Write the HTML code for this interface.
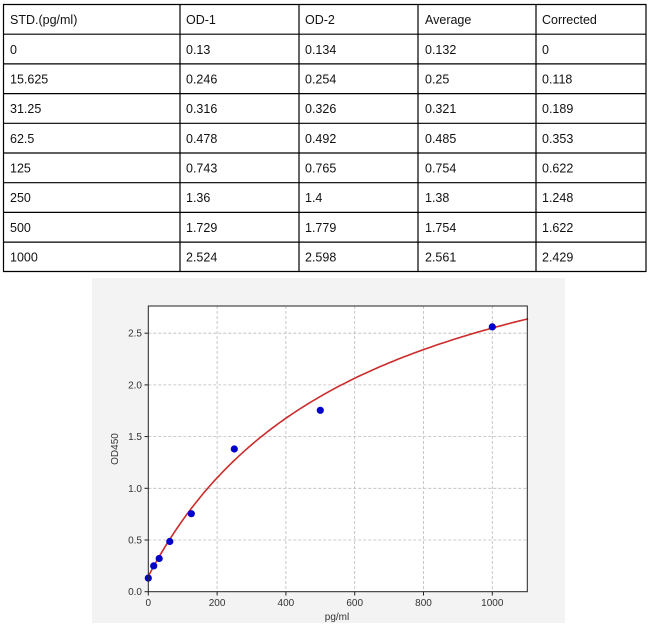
<!DOCTYPE html>
<html><head><meta charset="utf-8"><style>
body{margin:0;background:#fff;width:650px;height:627px;overflow:hidden;position:relative;font-family:"Liberation Sans",sans-serif}
</style></head><body>
<svg width="650" height="627" style="position:absolute;left:0;top:0" font-family="Liberation Sans, sans-serif">
<g stroke="#000" stroke-width="1.2">
<line x1="3" y1="4.5" x2="646" y2="4.5"/><line x1="3" y1="34.2" x2="646" y2="34.2"/><line x1="3" y1="63.9" x2="646" y2="63.9"/><line x1="3" y1="93.6" x2="646" y2="93.6"/><line x1="3" y1="123.3" x2="646" y2="123.3"/><line x1="3" y1="153" x2="646" y2="153"/><line x1="3" y1="182.7" x2="646" y2="182.7"/><line x1="3" y1="212.4" x2="646" y2="212.4"/><line x1="3" y1="242.1" x2="646" y2="242.1"/><line x1="3" y1="271.5" x2="646" y2="271.5"/>
<line x1="3.5" y1="4" x2="3.5" y2="272"/><line x1="180" y1="4" x2="180" y2="272"/><line x1="299" y1="4" x2="299" y2="272"/><line x1="418" y1="4" x2="418" y2="272"/><line x1="536" y1="4" x2="536" y2="272"/><line x1="646" y1="4" x2="646" y2="272"/>
</g>
<g font-size="12.5" fill="#111">
<text x="10" y="24">STD.(pg/ml)</text><text x="186" y="24">OD-1</text><text x="305" y="24">OD-2</text><text x="425" y="24">Average</text><text x="542" y="24">Corrected</text>
<text x="10" y="54">0</text><text x="186" y="54">0.13</text><text x="305" y="54">0.134</text><text x="425" y="54">0.132</text><text x="542" y="54">0</text>
<text x="10" y="83.5">15.625</text><text x="186" y="83.5">0.246</text><text x="305" y="83.5">0.254</text><text x="425" y="83.5">0.25</text><text x="542" y="83.5">0.118</text>
<text x="10" y="113">31.25</text><text x="186" y="113">0.316</text><text x="305" y="113">0.326</text><text x="425" y="113">0.321</text><text x="542" y="113">0.189</text>
<text x="10" y="143">62.5</text><text x="186" y="143">0.478</text><text x="305" y="143">0.492</text><text x="425" y="143">0.485</text><text x="542" y="143">0.353</text>
<text x="10" y="172.5">125</text><text x="186" y="172.5">0.743</text><text x="305" y="172.5">0.765</text><text x="425" y="172.5">0.754</text><text x="542" y="172.5">0.622</text>
<text x="10" y="202">250</text><text x="186" y="202">1.36</text><text x="305" y="202">1.4</text><text x="425" y="202">1.38</text><text x="542" y="202">1.248</text>
<text x="10" y="232">500</text><text x="186" y="232">1.729</text><text x="305" y="232">1.779</text><text x="425" y="232">1.754</text><text x="542" y="232">1.622</text>
<text x="10" y="261.5">1000</text><text x="186" y="261.5">2.524</text><text x="305" y="261.5">2.598</text><text x="425" y="261.5">2.561</text><text x="542" y="261.5">2.429</text>
</g>
<rect x="92" y="278" width="473" height="345" fill="#f3f3f3"/>
<rect x="148.3" y="306" width="379" height="285.7" fill="#fff"/>
<g stroke="#bbb" stroke-width="0.8" stroke-dasharray="3,2">
<line x1="217.1" y1="306" x2="217.1" y2="591.7"/><line x1="285.9" y1="306" x2="285.9" y2="591.7"/><line x1="354.7" y1="306" x2="354.7" y2="591.7"/><line x1="423.5" y1="306" x2="423.5" y2="591.7"/><line x1="492.3" y1="306" x2="492.3" y2="591.7"/>
<line x1="148.3" y1="540" x2="527.3" y2="540"/><line x1="148.3" y1="488.3" x2="527.3" y2="488.3"/><line x1="148.3" y1="436.6" x2="527.3" y2="436.6"/><line x1="148.3" y1="384.9" x2="527.3" y2="384.9"/><line x1="148.3" y1="333.2" x2="527.3" y2="333.2"/>
</g>
<path id="c" fill="none" stroke="#cc2b2b" stroke-width="1.6" d=""/>
<g fill="#0000cc">
<circle cx="148.3" cy="578.1" r="3.6"/><circle cx="153.7" cy="565.9" r="3.6"/><circle cx="159.2" cy="558.5" r="3.6"/><circle cx="169.8" cy="541.5" r="3.6"/><circle cx="191.3" cy="513.7" r="3.6"/><circle cx="234.3" cy="449" r="3.6"/><circle cx="320.3" cy="410.3" r="3.6"/><circle cx="492.3" cy="326.9" r="3.6"/>
</g>
<rect x="148.3" y="306" width="379" height="285.7" fill="none" stroke="#222" stroke-width="1"/>
<g stroke="#222" stroke-width="1">
<line x1="148.3" y1="591.7" x2="148.3" y2="595.5"/><line x1="217.1" y1="591.7" x2="217.1" y2="595.5"/><line x1="285.9" y1="591.7" x2="285.9" y2="595.5"/><line x1="354.7" y1="591.7" x2="354.7" y2="595.5"/><line x1="423.5" y1="591.7" x2="423.5" y2="595.5"/><line x1="492.3" y1="591.7" x2="492.3" y2="595.5"/>
<line x1="144.5" y1="591.7" x2="148.3" y2="591.7"/><line x1="144.5" y1="540" x2="148.3" y2="540"/><line x1="144.5" y1="488.3" x2="148.3" y2="488.3"/><line x1="144.5" y1="436.6" x2="148.3" y2="436.6"/><line x1="144.5" y1="384.9" x2="148.3" y2="384.9"/><line x1="144.5" y1="333.2" x2="148.3" y2="333.2"/>
</g>
<g font-size="10" fill="#333">
<g text-anchor="middle"><text x="148.3" y="606">0</text><text x="217.1" y="606">200</text><text x="285.9" y="606">400</text><text x="354.7" y="606">600</text><text x="423.5" y="606">800</text><text x="492.3" y="606">1000</text>
<text x="337" y="620">pg/ml</text></g>
<g text-anchor="end"><text x="142" y="595">0.0</text><text x="142" y="543.5">0.5</text><text x="142" y="491.8">1.0</text><text x="142" y="440">1.5</text><text x="142" y="388.4">2.0</text><text x="142" y="336.7">2.5</text></g>
<text transform="translate(118,449) rotate(-90)" text-anchor="middle">OD450</text>
</g>
</svg>
<script>
var d="";for(var x=0;x<=1104;x+=8){var y=0.15+3.876*x/(615+x);d+=(x?"L":"M")+(148.3+x*0.344).toFixed(1)+","+(591.7-y*103.4).toFixed(1);}
document.getElementById("c").setAttribute("d",d);
</script>
</body></html>
